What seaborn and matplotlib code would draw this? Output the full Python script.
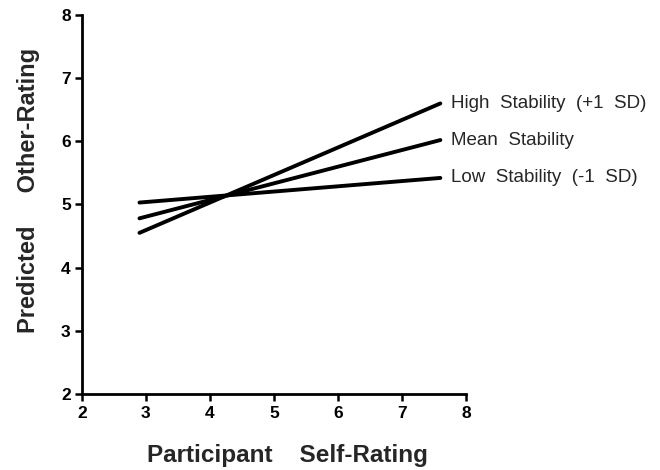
import numpy as np
import pandas as pd
import matplotlib.pyplot as plt
import seaborn as sns

# values
self_rating = [2.9, 7.6]
high_stab = [4.55, 6.6]
mean_stab = [4.78, 6.02]
low_stab = [5.03, 5.42]
series_names = ['High Stability (+1 SD)', 'Mean Stability', 'Low Stability (-1 SD)']

df = pd.DataFrame({
    'self': self_rating * 3,
    'other': high_stab + mean_stab + low_stab,
    'group': [n for n in series_names for _ in self_rating],
})

sns.set_style('ticks')
plt.rcParams['font.family'] = ['Liberation Sans', 'DejaVu Sans']

fig = plt.figure(figsize=(6.6, 4.7), dpi=100)
ax = fig.add_axes([0.124, 0.162, 0.582, 0.806])

sns.lineplot(data=df, x='self', y='other', units='group', estimator=None,
             color='black', lw=2.8, ax=ax, legend=False)

# right-hand labels at line ends
for name, vals in zip(series_names, [high_stab, mean_stab, low_stab]):
    ax.text(self_rating[-1] + 0.16, vals[-1], name.replace(' ', '  '),
            ha='left', va='center', fontsize=13.5, clip_on=False)

ax.set_xlim(2, 8)
ax.set_ylim(2, 8)
ax.set_xticks(range(2, 9))
ax.set_yticks(range(2, 9))
for lab in ax.get_xticklabels() + ax.get_yticklabels():
    lab.set_fontweight('bold')
    lab.set_fontsize(12.5)
ax.tick_params(direction='out', length=5, width=1.8, colors='black')
ax.tick_params(axis='x', pad=4)
ax.tick_params(axis='y', pad=3)
for s in ['left', 'bottom']:
    ax.spines[s].set_linewidth(2)
    ax.spines[s].set_color('black')
sns.despine(ax=ax)

ax.set_xlabel('Participant' + ' ' * 4 + 'Self-Rating', fontsize=17.5,
              fontweight='bold')
ax.set_ylabel('Predicted' + ' ' * 5 + 'Other-Rating', fontsize=17,
              fontweight='bold')
ax.xaxis.label.set_va('baseline')
ax.xaxis.set_label_coords(0.534, -0.18)
ax.yaxis.set_label_coords(-0.11, 0.536)

fig.savefig('out.png', dpi=100)
